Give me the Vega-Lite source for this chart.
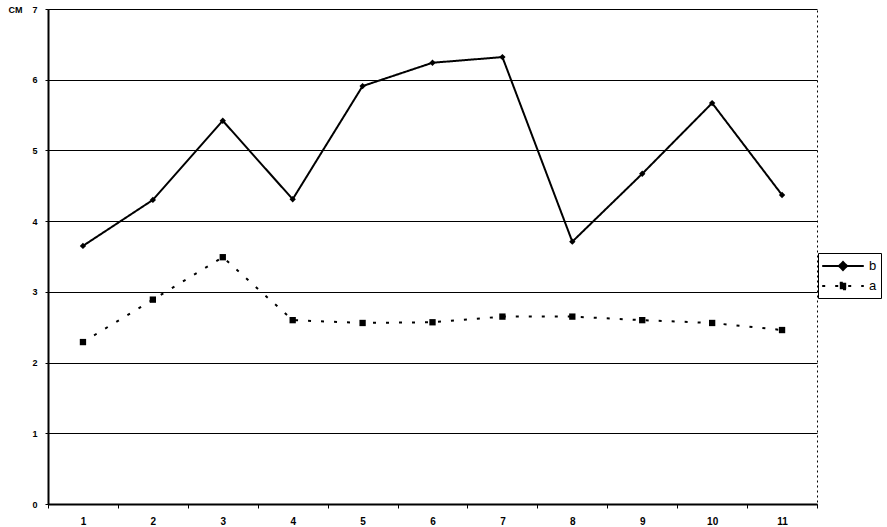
{
  "$schema": "https://vega.github.io/schema/vega-lite/v6.json",
  "width": 769,
  "height": 495,
  "autosize": {"type": "none"},
  "padding": {"left": 48, "top": 9, "right": 70, "bottom": 23},
  "background": "white",
  "config": {
    "view": {"stroke": "black", "strokeDash": [2, 3], "strokeWidth": 1},
    "font": "Liberation Sans",
    "axis": {"labelFont": "Liberation Sans", "labelFontSize": 10, "labelFontWeight": "bold", "labelColor": "black", "domainColor": "black", "tickColor": "black"}
  },
  "data": {
    "values": [
      {"x": 1, "series": "b", "v": 3.65}, {"x": 2, "series": "b", "v": 4.30}, {"x": 3, "series": "b", "v": 5.42},
      {"x": 4, "series": "b", "v": 4.31}, {"x": 5, "series": "b", "v": 5.91}, {"x": 6, "series": "b", "v": 6.24},
      {"x": 7, "series": "b", "v": 6.32}, {"x": 8, "series": "b", "v": 3.71}, {"x": 9, "series": "b", "v": 4.67},
      {"x": 10, "series": "b", "v": 5.67}, {"x": 11, "series": "b", "v": 4.37},
      {"x": 1, "series": "a", "v": 2.29}, {"x": 2, "series": "a", "v": 2.89}, {"x": 3, "series": "a", "v": 3.49},
      {"x": 4, "series": "a", "v": 2.60}, {"x": 5, "series": "a", "v": 2.56}, {"x": 6, "series": "a", "v": 2.57},
      {"x": 7, "series": "a", "v": 2.65}, {"x": 8, "series": "a", "v": 2.65}, {"x": 9, "series": "a", "v": 2.60},
      {"x": 10, "series": "a", "v": 2.56}, {"x": 11, "series": "a", "v": 2.46}
    ]
  },
  "encoding": {
    "x": {
      "field": "x", "type": "ordinal",
      "scale": {"paddingInner": 0, "paddingOuter": 0},
      "axis": {"title": null, "labelAngle": 0, "tickBand": "extent", "tickSize": 4, "labelPadding": 8, "domainWidth": 2, "grid": false}
    },
    "y": {
      "field": "v", "type": "quantitative",
      "scale": {"domain": [0, 7], "nice": false},
      "axis": {
        "values": [0, 1, 2, 3, 4, 5, 6, 7], "title": "CM", "titleAngle": 0, "titleX": -40, "titleY": 3,
        "titleAlign": "left", "titleBaseline": "alphabetic", "titleFontSize": 9, "titleFontWeight": "bold",
        "titleFont": "Liberation Sans",
        "grid": true, "gridColor": "black", "gridWidth": 1.2, "gridOpacity": 1,
        "tickSize": 3, "labelPadding": 8, "labelFontSize": 9, "domainWidth": 2
      }
    }
  },
  "layer": [
    {
      "mark": {"type": "line", "color": "black", "strokeWidth": 2},
      "encoding": {
        "detail": {"field": "series"},
        "strokeDash": {
          "field": "series", "type": "nominal",
          "scale": {"domain": ["b", "a"], "range": [[1, 0], [3, 10]]},
          "legend": {
            "title": null, "orient": "none", "legendX": 770, "legendY": 244,
            "strokeColor": "black", "padding": 4,
            "symbolType": "M-2.6,0L2.6,0M0,-0.5L0.5,0L0,0.5L-0.5,0Z",
            "symbolSize": 256, "symbolStrokeWidth": 2, "symbolStrokeColor": "black", "symbolFillColor": "black",
            "symbolOffset": 12,
            "labelFontSize": 13, "labelFont": "Liberation Sans", "labelColor": "black", "labelOffset": 17,
            "rowPadding": 3,
            "encode": {
              "symbols": {
                "update": {
                  "shape": {"signal": "datum.value === 'b' ? 'M-2.6,0L2.6,0M0,-0.5L0.5,0L0,0.5L-0.5,0Z' : 'M-2.6,0L2.6,0M-0.4,-0.4L0.4,-0.4L0.4,0.4L-0.4,0.4Z'"},
                  "fill": {"value": "black"},
                  "stroke": {"value": "black"},
                  "strokeWidth": {"value": 2}
                }
              }
            }
          }
        }
      }
    },
    {
      "transform": [{"filter": "datum.series === 'b'"}],
      "mark": {"type": "point", "filled": true, "color": "black", "opacity": 1, "shape": "diamond", "size": 40}
    },
    {
      "transform": [{"filter": "datum.series === 'a'"}],
      "mark": {"type": "point", "filled": true, "color": "black", "opacity": 1, "shape": "square", "size": 40}
    }
  ]
}
